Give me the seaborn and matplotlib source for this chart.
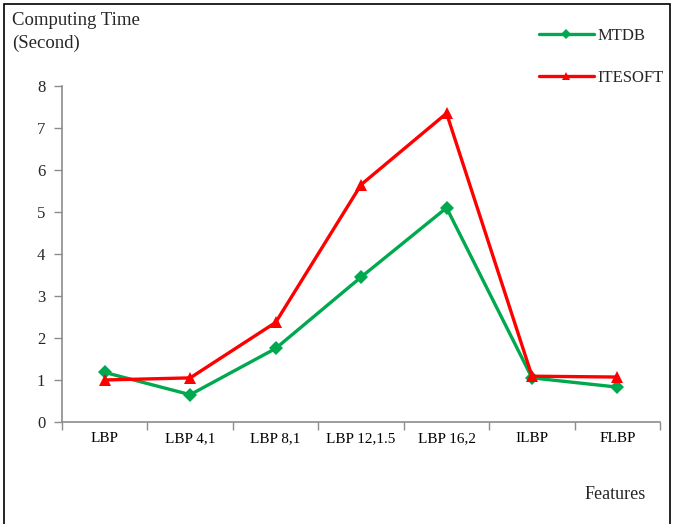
"""Computing time per LBP feature variant, MTDB vs ITESOFT."""

import matplotlib.pyplot as plt
from matplotlib.patches import Rectangle
import pandas as pd
import seaborn as sns

FEATURES = ["LBP", "LBP 4,1", "LBP 8,1", "LBP 12,1.5", "LBP 16,2", "ILBP", "FLBP"]
MTDB_TIME = [1.18, 0.65, 1.75, 3.45, 5.10, 1.05, 0.83]
ITESOFT_TIME = [1.00, 1.05, 2.37, 5.65, 7.35, 1.09, 1.07]
Y_TICKS = [0, 1, 2, 3, 4, 5, 6, 7, 8]

GREEN = "#00a94f"
RED = "#ff0000"
AXIS_GRAY = "#8c8c8c"

sns.set_theme(style="white")
plt.rcParams["font.family"] = ["Liberation Serif", "DejaVu Serif"]

data = pd.DataFrame({"feature": FEATURES, "mtdb": MTDB_TIME, "itesoft": ITESOFT_TIME})

figure = plt.figure(figsize=(6.73, 5.24), dpi=100)
axes = figure.add_axes([0.0921, 0.1947, 0.8889, 0.6412])

sns.lineplot(data=data, x="feature", y="mtdb", sort=False, color=GREEN, linewidth=2.4,
             marker="D", markersize=7, markeredgewidth=0, label="MTDB", ax=axes)
sns.lineplot(data=data, x="feature", y="itesoft", sort=False, color=RED, linewidth=2.4,
             marker="^", markersize=9, markeredgewidth=0, label="ITESOFT", ax=axes)

axes.set_xlim(-0.5, len(FEATURES) - 0.5)
axes.set_ylim(0, 8)
axes.set_yticks(Y_TICKS)
axes.set_xticks(range(len(FEATURES)))
axes.set_xticklabels(FEATURES)
axes.set_xticks([i - 0.5 for i in range(len(FEATURES) + 1)], minor=True)
axes.tick_params(axis="x", which="major", length=0, pad=7, labelsize=11, colors="black")
axes.tick_params(axis="x", which="minor", length=6, width=1, direction="out", color=AXIS_GRAY,
                 bottom=True)
axes.tick_params(axis="y", length=6, width=1, direction="out", color=AXIS_GRAY, left=True,
                 labelsize=12, pad=6)
axes.set_xlabel("")
axes.set_ylabel("")
for side in ("top", "right"):
    axes.spines[side].set_visible(False)
for side in ("left", "bottom"):
    axes.spines[side].set_color(AXIS_GRAY)
    axes.spines[side].set_linewidth(1.2)

axes.legend(loc="upper left", bbox_to_anchor=(0.778, 0.976), bbox_transform=figure.transFigure,
            frameon=False, fontsize=12, handlelength=3.3, labelspacing=1.6, handletextpad=0.25,
            markerscale=0.7)

figure.text(0.018, 0.978, "Computing Time\n(Second)", fontsize=13.5, va="top", ha="left",
            linespacing=1.45)
figure.text(0.959, 0.057, "Features", fontsize=13, va="center", ha="right")

figure.patches.append(Rectangle((0.006, -0.01), 0.99, 1.003, transform=figure.transFigure,
                                fill=False, edgecolor="black", linewidth=1.2))

figure.savefig("out.png", dpi=100)
